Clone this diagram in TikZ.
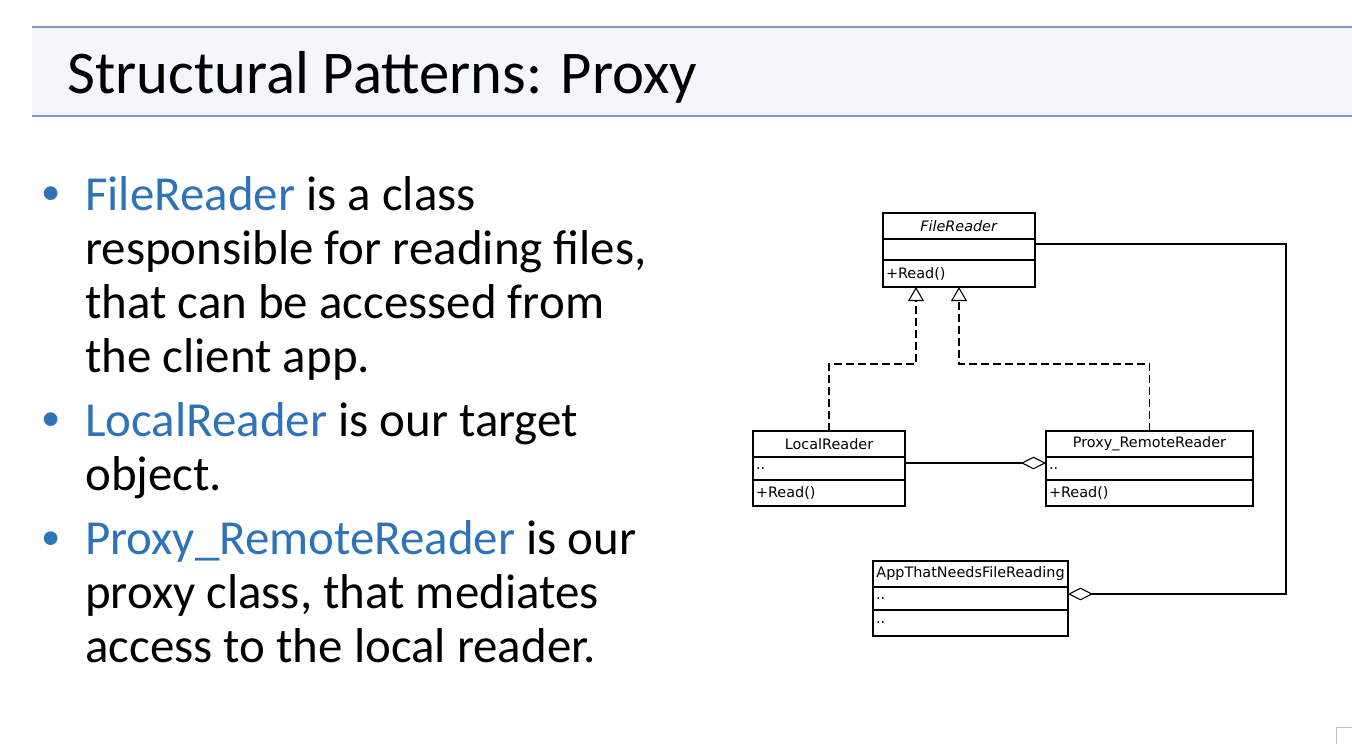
\documentclass[tikz,border=0pt]{standalone}
\usepackage{fontspec}
\setmainfont{Carlito}
\newfontfamily\umlfont{DejaVu Sans}
\usetikzlibrary{positioning,arrows.meta}
\definecolor{bannerfill}{HTML}{F3F6FB}
\definecolor{bannerline}{HTML}{7D9BCB}
\definecolor{keyblue}{HTML}{2E72BA}
\def\px{0.75pt}
\tikzset{
  part/.style={draw,line width=0.8pt,outer sep=0pt,inner ysep=0pt,inner xsep=3*\px,
    font=\umlfont\fontsize{10.8}{12}\selectfont,anchor=north},
  hd/.style={part,minimum width=#1*\px,minimum height=26*\px},
  cmp/.style={part,text width=#1*\px-6*\px,align=left,minimum height=24*\px},
  real/.style={line width=0.8pt,dash pattern=on 6pt off 3pt,
    -{Triangle[open,length=10.5pt,width=12pt]}},
  agg/.style={line width=0.8pt,-{Diamond[open,length=18.75pt,width=9.5pt]}},
  bul/.style={anchor=base west,font=\fontsize{36.7}{40.5}\selectfont,inner sep=0pt},
}
\begin{document}
\begin{tikzpicture}[x=0.75pt,y=-0.75pt]
\useasboundingbox (0,0) rectangle (1352,744);
% title banner
\fill[bannerfill] (32,27) rectangle (1352,116);
\draw[bannerline,line width=1.5pt] (32,27) -- (1352,27) (32,116) -- (1352,116);
\node[anchor=base west,inner sep=0pt,font=\fontsize{45.5}{55}\selectfont] (title) at (67,93) {Structural Patterns: Proxy};
% bullets (text nodes sit on the baseline of their last line)
\foreach \n/\y in {1/204,2/430,3/549}
  \node[bul,text=keyblue,font=\fontsize{29}{30}\selectfont] (dot\n) at (41,\y) {\textbullet};
\node[bul,align=left] (b1) at (85,372) {\textcolor{keyblue}{FileReader} is a class\\responsible for reading files,\\that can be accessed from\\the client app.};
\node[bul,align=left] (b2) at (85,490) {\textcolor{keyblue}{LocalReader} is our target\\object.};
\node[bul,align=left] (b3) at (85,662) {\textcolor{keyblue}{Proxy\_RemoteReader} is our\\proxy class, that mediates\\access to the local reader.};
% classes
\node[hd=152] (fr) at (959,213) {\textit{FileReader}};
\node[cmp=152,minimum height=21*\px,below=0pt of fr] (fr-a) {};
\node[cmp=152,minimum height=27*\px,below=0pt of fr-a] (fr-o) {+Read()};
\node[hd=152] (lr) at (829,431) {LocalReader};
\node[cmp=152,minimum height=23*\px,below=0pt of lr] (lr-a) {..};
\node[cmp=152,minimum height=26*\px,below=0pt of lr-a] (lr-o) {+Read()};
\node[hd=207] (pr) at (1149.5,431) {Proxy\_RemoteReader};
\node[cmp=207,minimum height=23*\px,below=0pt of pr] (pr-a) {..};
\node[cmp=207,minimum height=26*\px,below=0pt of pr-a] (pr-o) {+Read()};
\node[hd=195] (app) at (970.5,561) {AppThatNeedsFileReading};
\node[cmp=195,minimum height=23*\px,below=0pt of app] (app-a) {..};
\node[cmp=195,minimum height=26*\px,below=0pt of app-a] (app-o) {..};
% relations
\coordinate (fr-in) at ([xshift=-43*\px]fr-o.south);
\draw[real] (lr.north) |- ([yshift=-77*\px]fr-in) -- (fr-in);
\draw[real] (pr.north) |- ([yshift=-77*\px]fr-o.south) -- (fr-o.south);
\draw[agg] ([yshift=5.5*\px]lr-a.east) -- ([yshift=5.5*\px]pr-a.west);
\draw[agg] ([yshift=5.5*\px]fr-a.east) -| ([xshift=218*\px,yshift=4.5*\px]app-a.east) -- ([yshift=4.5*\px]app-a.east);
% corner mark
\draw[gray!50,line width=0.8pt] (1336.5,744) |- (1352,727.5);
\end{tikzpicture}
\end{document}
